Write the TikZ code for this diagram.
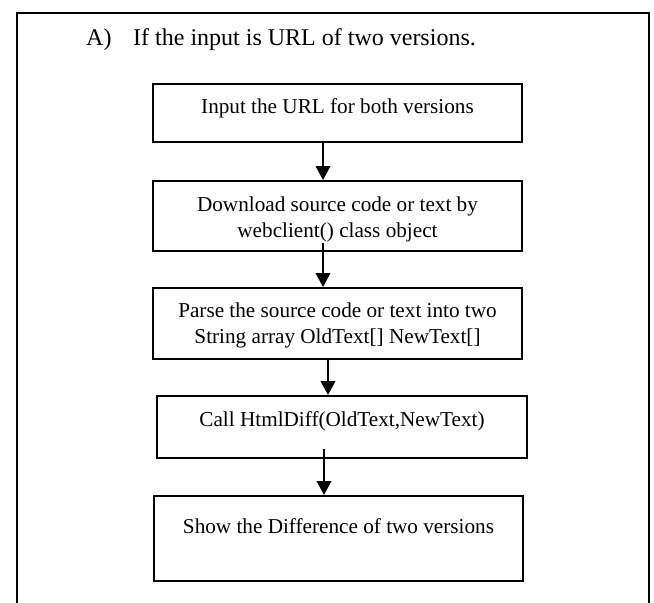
\documentclass[tikz,border=0pt]{standalone}
\usepackage{fontspec}
\setmainfont{Liberation Serif}
\usetikzlibrary{arrows.meta}
\tikzset{
  stepbox/.style={draw, line width=1.8pt, inner sep=0pt, align=center, anchor=north, minimum width=369pt, font=\fontsize{21.2pt}{26.5pt}\selectfont},
  flowarrow/.style={-{Triangle[width=14.5pt,length=14pt]}, line width=2.2pt},
}
\begin{document}
\begin{tikzpicture}[x=1pt, y=-1pt]
\useasboundingbox (0,0) rectangle (654,603);
\draw[line width=2pt] (17,603) -- (17,13) -- (649,13) -- (649,603);
\node[anchor=base west, inner sep=0pt, font=\fontsize{24pt}{29pt}\selectfont] (title) at (86,45) {\makebox[47pt][l]{A)}If the input is URL of two versions.};
\node[stepbox, text height=30pt, text depth=28pt] (input) at (337.5,83) {Input the URL for both versions};
\node[stepbox, text height=57pt, text depth=13pt] (download) at (337.5,180) {Download source code or text by\\webclient() class object};
\node[stepbox, text height=56pt, text depth=15pt] (parse) at (337.5,287) {Parse the source code or text into two\\String array OldText[] NewText[]};
\node[stepbox, text height=31pt, text depth=31pt, minimum width=370pt] (call) at (342,395) {Call HtmlDiff(OldText,NewText)};
\node[stepbox, text height=38pt, text depth=47pt] (show) at (338.5,495) {Show the Difference of two versions};
\draw[flowarrow] ([xshift=-14.5pt]input.south) -- ([xshift=-14.5pt]download.north);
\draw[flowarrow] ([xshift=-14.5pt,yshift=9pt]download.south) -- ([xshift=-14.5pt]parse.north);
\draw[flowarrow] ([xshift=-9.5pt]parse.south) -- ([xshift=-14pt]call.north);
\draw[flowarrow] ([xshift=-18pt,yshift=10pt]call.south) -- ([xshift=-14.5pt]show.north);
\end{tikzpicture}
\end{document}
